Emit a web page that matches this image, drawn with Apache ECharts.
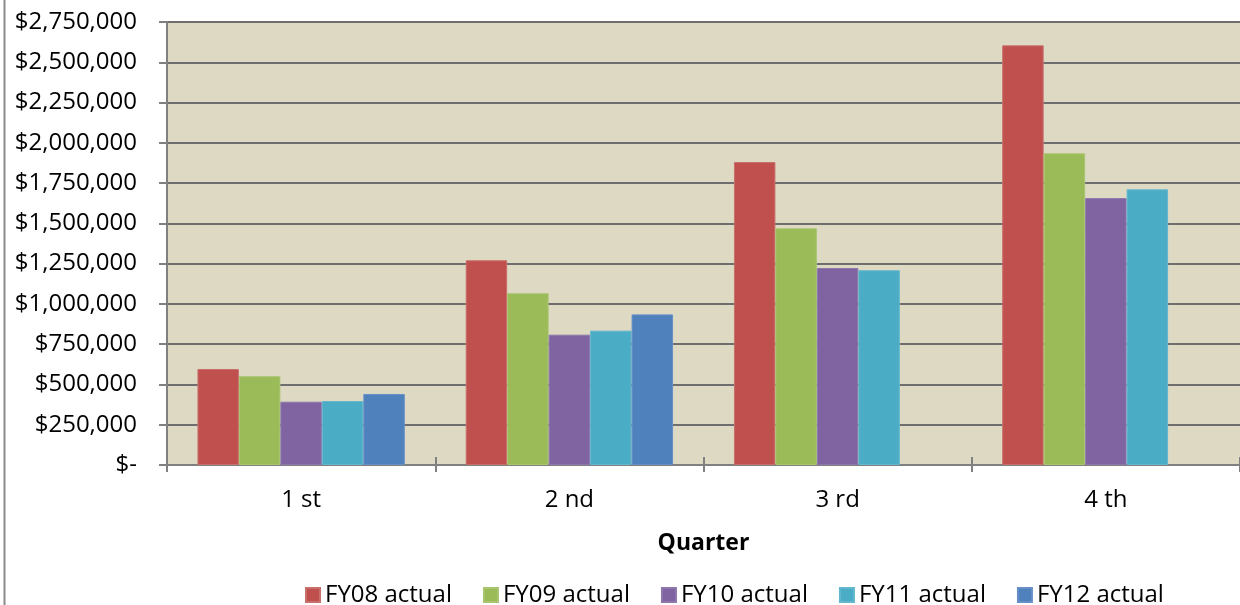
<!DOCTYPE html>
<html>
<head>
<meta charset="utf-8">
<script src="https://cdn.jsdelivr.net/npm/echarts@6/dist/echarts.min.js"></script>
<style>
  html, body { margin: 0; padding: 0; background: #ffffff; }
  #chart { width: 1240px; height: 605px; }
</style>
</head>
<body>
<div id="chart"></div>
<script>
// Quarterly actuals by fiscal year
const quarters = ['1 st', '2 nd', '3 rd', '4 th'];
const seriesNames = ['FY08 actual', 'FY09 actual', 'FY10 actual', 'FY11 actual', 'FY12 actual'];
const fy08 = [596000, 1271000, 1881000, 2605000];
const fy09 = [551000, 1066000, 1469000, 1935000];
const fy10 = [393000, 809000, 1223000, 1657000];
const fy11 = [397000, 834000, 1209000, 1711000];
const fy12 = [441000, 935000, null, null];
const seriesColors = ['#C0504D', '#9BBB59', '#8064A2', '#4BACC6', '#4F81BD'];
const borderColors = ['#C9706D', '#A9C570', '#8E77AD', '#63B7CE', '#668FC6'];
const yMin = 0, yMax = 2750000, yStep = 250000;

const seriesValues = [fy08, fy09, fy10, fy11, fy12];

const FONT = '"Open Sans", "Liberation Sans", sans-serif';

function money(v) {
  if (v === 0) return '$-';
  return '$' + v.toLocaleString('en-US');
}

const chart = echarts.init(document.getElementById('chart'), null, { renderer: 'canvas' });

chart.setOption({
  animation: false,
  backgroundColor: '#ffffff',
  grid: { left: 167, right: 0, top: 22, bottom: 140, containLabel: false,
          show: true, backgroundColor: '#DDD9C3', borderWidth: 0 },
  graphic: [{
    type: 'line',
    shape: { x1: 4.5, y1: 0, x2: 4.5, y2: 605 },
    style: { stroke: '#8a8a8a', lineWidth: 2 },
    z: 10
  }],
  legend: {
    data: seriesNames,
    left: 305,
    top: 583,
    padding: 0,
    icon: 'rect',
    itemWidth: 14,
    itemHeight: 14,
    itemGap: 31,
    textStyle: { fontFamily: FONT, fontSize: 24, color: '#000000' }
  },
  xAxis: [{
    type: 'category',
    data: quarters,
    position: 'bottom',
    axisLine: { show: true, onZero: false, lineStyle: { color: '#808080', width: 2 } },
    axisTick: { show: true, inside: false, length: 7, alignWithLabel: false,
                lineStyle: { color: '#808080', width: 2 } },
    axisLabel: { fontFamily: FONT, fontSize: 24, color: '#000000', margin: 23 },
    name: 'Quarter',
    nameLocation: 'middle',
    nameGap: 67,
    nameTextStyle: { fontFamily: FONT, fontSize: 23, fontWeight: 'bold', color: '#000000' },
    splitLine: { show: false }
  }, {
    type: 'category',
    data: quarters,
    position: 'bottom',
    axisLine: { show: false },
    axisTick: { show: true, inside: true, length: 8, lineStyle: { color: '#808080', width: 2 } },
    axisLabel: { show: false },
    splitLine: { show: false }
  }],
  yAxis: {
    type: 'value',
    min: yMin,
    max: yMax,
    interval: yStep,
    axisLine: { show: true, lineStyle: { color: '#808080', width: 2 } },
    axisTick: { show: true, inside: false, length: 8, lineStyle: { color: '#808080', width: 2 } },
    axisLabel: { fontFamily: FONT, fontSize: 24, color: '#000000', margin: 30, formatter: money },
    splitLine: { show: true, lineStyle: { color: '#6e6e6e', width: 2 } }
  },
  series: seriesNames.map((name, i) => ({
    name: name,
    type: 'bar',
    xAxisIndex: 0,
    data: seriesValues[i],
    barGap: '0%',
    barCategoryGap: '22.7%',
    itemStyle: { color: seriesColors[i], borderColor: borderColors[i], borderWidth: 1 }
  }))
});
</script>
</body>
</html>
